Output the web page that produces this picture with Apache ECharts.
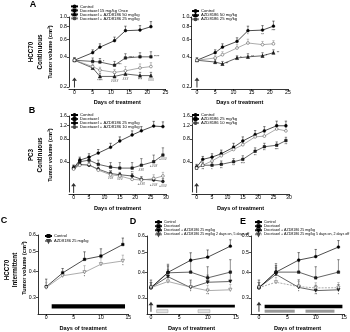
<!DOCTYPE html>
<html><head><meta charset="utf-8">
<script src="https://cdn.jsdelivr.net/npm/echarts@6/dist/echarts.min.js"></script>
<style>html,body{margin:0;padding:0;background:#fff}#c{width:350px;height:332px}</style>
</head><body><div id="c"></div>
<script>
// ---------------- data ----------------
// Panel A (HCC70 continuous)
const daysA = [0, 5, 7, 11, 14, 18, 21];
const aL_ctrl = [0.37, 0.44, 0.50, 0.58, 0.73, 0.74, 0.80];
const aL_ctrlErr = [0.02, 0.03, 0.04, 0.05, 0.08, 0.08, 0.10];
const aL_doc = [0.37, 0.36, 0.355, 0.33, 0.39, 0.40, 0.40];
const aL_docErr = [0.02, 0.03, 0.03, 0.03, 0.04, 0.04, 0.05];
const aL_combo50 = [0.37, 0.31, 0.255, 0.255, 0.27, 0.26, 0.26];
const aL_combo50Err = [0.02, 0.02, 0.02, 0.02, 0.02, 0.02, 0.02];
const aL_combo25 = [0.37, 0.32, 0.295, 0.28, 0.29, 0.31, 0.32];
const aL_combo25Err = [0.02, 0.02, 0.02, 0.02, 0.03, 0.03, 0.03];
const aR_ctrl = [0.37, 0.44, 0.50, 0.57, 0.73, 0.74, 0.81];
const aR_ctrlErr = [0.02, 0.03, 0.04, 0.05, 0.08, 0.08, 0.10];
const aR_azd50 = [0.37, 0.355, 0.34, 0.39, 0.40, 0.41, 0.44];
const aR_azd50Err = [0.02, 0.02, 0.02, 0.02, 0.03, 0.03, 0.03];
const aR_azd25 = [0.37, 0.39, 0.42, 0.49, 0.55, 0.53, 0.54];
const aR_azd25Err = [0.02, 0.02, 0.03, 0.04, 0.05, 0.04, 0.04];
// Panel B (PC3 continuous)
const daysB = [0, 2, 5, 8, 12, 15, 19, 22, 26, 29];
const bL_ctrl = [0.33, 0.42, 0.46, 0.52, 0.62, 0.75, 0.90, 1.02, 1.18, 1.16];
const bL_ctrlErr = [0.03, 0.04, 0.05, 0.06, 0.08, 0.10, 0.12, 0.14, 0.18, 0.18];
const bL_doc = [0.33, 0.40, 0.42, 0.37, 0.34, 0.33, 0.33, 0.36, 0.40, 0.49];
const bL_docErr = [0.03, 0.04, 0.05, 0.05, 0.05, 0.06, 0.06, 0.08, 0.09, 0.12];
const bL_combo25 = [0.33, 0.37, 0.36, 0.32, 0.28, 0.27, 0.26, 0.235, 0.23, 0.22];
const bL_combo25Err = [0.02, 0.03, 0.03, 0.02, 0.02, 0.02, 0.02, 0.02, 0.02, 0.02];
const bL_combo10 = [0.32, 0.36, 0.37, 0.31, 0.27, 0.26, 0.235, 0.23, 0.24, 0.26];
const bL_combo10Err = [0.02, 0.03, 0.03, 0.02, 0.02, 0.02, 0.02, 0.02, 0.03, 0.03];
const bR_ctrl = [0.34, 0.43, 0.46, 0.51, 0.62, 0.75, 0.91, 1.02, 1.19, 1.19];
const bR_ctrlErr = [0.03, 0.04, 0.05, 0.06, 0.08, 0.10, 0.12, 0.14, 0.18, 0.18];
const bR_azd25 = [0.33, 0.36, 0.36, 0.37, 0.40, 0.43, 0.55, 0.63, 0.66, 0.76];
const bR_azd25Err = [0.03, 0.03, 0.03, 0.04, 0.04, 0.05, 0.06, 0.07, 0.07, 0.08];
const bR_azd10 = [0.33, 0.36, 0.41, 0.48, 0.58, 0.67, 0.85, 0.87, 1.08, 1.02];
const bR_azd10Err = [0.03, 0.04, 0.05, 0.06, 0.07, 0.08, 0.09, 0.10, 0.12, 0.12];
// Panels C-E (HCC70 intermittent)
const daysC = [0, 3, 7, 10, 14];
const c_ctrl = [0.338, 0.394, 0.458, 0.475, 0.54];
const c_ctrlErr = [0.03, 0.02, 0.04, 0.04, 0.04];
const c_azd = [0.335, 0.382, 0.397, 0.434, 0.45];
const c_azdErr = [0.02, 0.02, 0.03, 0.03, 0.03];
const d_ctrl = [0.336, 0.399, 0.457, 0.473, 0.535];
const d_ctrlErr = [0.03, 0.03, 0.04, 0.04, 0.04];
const d_doc = [0.336, 0.397, 0.40, 0.375, 0.40];
const d_docErr = [0.02, 0.04, 0.05, 0.05, 0.06];
const d_combo = [0.336, 0.38, 0.336, 0.357, 0.36];
const d_comboErr = [0.02, 0.03, 0.03, 0.03, 0.04];
const d_comboInt = [0.336, 0.36, 0.338, 0.325, 0.328];
const d_comboIntErr = [0.02, 0.02, 0.02, 0.02, 0.02];
const e_ctrl = [0.336, 0.40, 0.458, 0.476, 0.53];
const e_ctrlErr = [0.03, 0.03, 0.04, 0.04, 0.04];
const e_doc = [0.336, 0.40, 0.40, 0.375, 0.40];
const e_docErr = [0.02, 0.04, 0.05, 0.05, 0.06];
const e_combo = [0.336, 0.39, 0.337, 0.325, 0.328];
const e_comboErr = [0.02, 0.03, 0.03, 0.02, 0.02];
const e_comboInt = [0.336, 0.357, 0.34, 0.335, 0.336];
const e_comboIntErr = [0.02, 0.02, 0.02, 0.02, 0.02];
// significance marks per point
const aL_docMarks = ['', '', '*', '***', '****', '', '****'];
const aL_combo50Marks = ['', '', '****', '####', '###', '***', '###'];
const aR_ctrlMarks = ['', '', '', '', '*', '**', '***'];
const aR_azd50Marks = ['', '', '**', '*', '**', '*', '**'];
const bL_docMarks = ['', '', '', '*', '**', '', '**', '###', '+###', '+###'];
const bL_combo25Marks = ['', '', '', '', '###', '###', '', '+###', '+###', '+###'];
const bR_azd25Marks = ['', '**', '*', '**', '**', '***', '**', '**', '***', '**'];
const c_azdMarks = ['', '', '*', '', '*'];
const d_comboIntMarks = ['', '', '*', '**', ''];
const e_comboMarks = ['', '', '*', '**', '*'];
// treatment schedules [startDay, endDay]
const c_schedBlack = [[1, 14.4]];
const d_schedBlack = [[1, 14.8]];
const d_schedGray = [[1, 3], [8.3, 10.4]];
const e_schedBlack = [[1, 14.7]];
const e_schedGray = [[1, 6.3], [8.2, 13.3]];
// tick labels
const xTicks25 = [0, 5, 10, 15, 20, 25];
const xTicks30 = [0, 5, 10, 15, 20, 25, 30];
const xTicks15 = [0, 5, 10, 15];
const yTicksA = [0.2, 0.4, 0.6, 0.8, 1.0];
const yTicksB = [0.4, 0.8, 1.2, 1.6];
const yTicksC = [0.3, 0.4, 0.5, 0.6];

// ---------------- layout ----------------
const FF = 'Liberation Sans';
const G = [
  {l: 69,    t: 17,  w: 96.5, h: 70,   xmin: -1.5, xmax: 25, ymin: 0.2,  ymax: 1.0, xt: xTicks25, yt: yTicksA, off: 2, ng: 10},
  {l: 191.5, t: 17,  w: 96.5, h: 70,   xmin: -1.5, xmax: 25, ymin: 0.2,  ymax: 1.0, xt: xTicks25, yt: yTicksA, off: 2, ng: 10},
  {l: 69,    t: 116, w: 97,   h: 76,   xmin: -1.5, xmax: 30, ymin: 0.16, ymax: 1.6, xt: xTicks30, yt: yTicksB, off: 2, ng: 11},
  {l: 192,   t: 116, w: 97,   h: 76,   xmin: -1.5, xmax: 30, ymin: 0.16, ymax: 1.6, xt: xTicks30, yt: yTicksB, off: 2, ng: 11},
  {l: 38,    t: 235, w: 90.3, h: 80.5, xmin: -1.5, xmax: 15, ymin: 0.25, ymax: 0.6, xt: xTicks15, yt: yTicksC, off: 0, ng: 11},
  {l: 147,   t: 236, w: 89,   h: 79.5, xmin: -0.7, xmax: 15, ymin: 0.25, ymax: 0.6, xt: xTicks15, yt: yTicksC, off: 0, ng: 11},
  {l: 251,   t: 236, w: 94,   h: 79.5, xmin: -1.4, xmax: 15, ymin: 0.25, ymax: 0.6, xt: xTicks15, yt: yTicksC, off: 0, ng: 11}
];
const axLine = {show: true, onZero: false, lineStyle: {color: '#000', width: 0.8}};
function xAx(i, g) {
  return {type: 'value', gridIndex: i, min: g.xmin, max: g.xmax, offset: g.off,
    axisLine: axLine,
    axisTick: {show: true, length: 2, customValues: g.xt, lineStyle: {color: '#000', width: 0.7}},
    axisLabel: {customValues: g.xt, fontSize: 5.2, margin: 1.5, color: '#000', fontFamily: FF},
    splitLine: {show: false},
    name: 'Days of treatment', nameLocation: 'middle', nameGap: g.ng,
    nameTextStyle: {fontSize: 5.6, fontWeight: 'bold', color: '#000', fontFamily: FF}};
}
function yAx(i, g) {
  return {type: 'log', logBase: 10, gridIndex: i, min: g.ymin, max: g.ymax,
    axisLine: axLine,
    axisTick: {show: true, length: 2, customValues: g.yt, lineStyle: {color: '#000', width: 0.7}},
    axisLabel: {customValues: g.yt, fontSize: 5.2, margin: 2, color: '#000', fontFamily: FF,
      formatter: v => (+v).toFixed(1)},
    minorTick: {show: false}, minorSplitLine: {show: false}, splitLine: {show: false}};
}

// ---------------- series ----------------
const ZW = '\u200b';
const series = [];
function errRender(color) {
  return function (params, api) {
    const x = api.value(0), y = api.value(1), e = api.value(2);
    const p0 = api.coord([x, y]), p1 = api.coord([x, y + e]);
    return {type: 'group', children: [
      {type: 'line', shape: {x1: p0[0], y1: p0[1], x2: p1[0], y2: p1[1]}, style: {stroke: color, lineWidth: 0.5}},
      {type: 'line', shape: {x1: p1[0] - 1.2, y1: p1[1], x2: p1[0] + 1.2, y2: p1[1]}, style: {stroke: color, lineWidth: 0.5}}
    ]};
  };
}
function addLine(gi, label, xs, ys, es, st, marks, markPos) {
  const name = label + ZW.repeat(gi);
  series.push({type: 'line', name, xAxisIndex: gi, yAxisIndex: gi,
    data: xs.map((x, i) => [x, ys[i]]),
    symbol: st.sym, symbolSize: st.size || 2.8, symbolRotate: st.rot || 0, showSymbol: true,
    lineStyle: {color: st.line, width: 0.7, type: st.dash ? [2, 1.2] : 'solid'},
    itemStyle: {color: st.fill, borderColor: st.stroke || '#000', borderWidth: 0.5},
    label: marks ? {show: true, position: markPos || 'bottom', distance: 1.5, fontSize: 3.4,
      color: '#000', fontFamily: FF, formatter: p => marks[p.dataIndex] || ''} : {show: false},
    labelLayout: {hideOverlap: false},
    z: 4, silent: true});
  series.push({type: 'custom', xAxisIndex: gi, yAxisIndex: gi,
    data: xs.map((x, i) => [x, ys[i], es[i]]), encode: {x: 0, y: 1},
    renderItem: errRender(st.line), z: 3, silent: true});
  return name;
}
function addArrow(gi, yv) {
  series.push({type: 'scatter', xAxisIndex: gi, yAxisIndex: gi, data: [[0, yv]], silent: true,
    symbol: 'path://M5,0L10,8L6,8L6,24L4,24L4,8L0,8Z', symbolSize: [5, 10],
    itemStyle: {color: '#000'}, z: 5});
}
function addSched(gi, spans, lvl, hgt, fill, stroke) {
  series.push({type: 'custom', xAxisIndex: gi, yAxisIndex: gi, silent: true, z: 2,
    data: spans.map(s => [s[0], s[1], lvl]), encode: {x: [0, 1], y: 2},
    renderItem: function (params, api) {
      const a = api.coord([api.value(0), api.value(2)]);
      const b = api.coord([api.value(1), api.value(2)]);
      return {type: 'rect', shape: {x: a[0], y: a[1] - hgt / 2, width: b[0] - a[0], height: hgt},
        style: {fill: fill, stroke: stroke || null, lineWidth: 0.5}};
    }});
}
const BLK = '#000', DK = '#222', GR = '#888';
const S_ctrl = {sym: 'circle', line: BLK, fill: BLK};
const S_sq = {sym: 'rect', line: DK, fill: DK, size: 2.5};
const S_tri = {sym: 'triangle', line: DK, fill: DK, size: 3.2};
const S_open = {sym: 'circle', line: GR, fill: '#fff', stroke: '#444'};
const S_dtri = {sym: 'triangle', rot: 180, line: DK, fill: DK, size: 3.2};
const S_dtriOpen = {sym: 'triangle', rot: 180, line: GR, fill: '#fff', stroke: '#444', size: 3.2};

const lg = [[], [], [], [], [], [], []];
// A left
lg[0].push(addLine(0, 'Control', daysA, aL_ctrl, aL_ctrlErr, S_ctrl));
lg[0].push(addLine(0, 'Docetaxel 15 mg/kg Once', daysA, aL_doc, aL_docErr, S_sq, aL_docMarks, 'right'));
lg[0].push(addLine(0, 'Docetaxel + AZD8186 50 mg/kg', daysA, aL_combo50, aL_combo50Err, S_tri, aL_combo50Marks, 'bottom'));
lg[0].push(addLine(0, 'Docetaxel + AZD8186 25 mg/kg', daysA, aL_combo25, aL_combo25Err, S_open));
addArrow(0, 0.222);
// A right
lg[1].push(addLine(1, 'Control', daysA, aR_ctrl, aR_ctrlErr, S_ctrl, aR_ctrlMarks, 'bottom'));
lg[1].push(addLine(1, 'AZD8186 50 mg/kg', daysA, aR_azd50, aR_azd50Err, S_tri, aR_azd50Marks, 'right'));
lg[1].push(addLine(1, 'AZD8186 25 mg/kg', daysA, aR_azd25, aR_azd25Err, S_open));
addArrow(1, 0.222);
// B left
lg[2].push(addLine(2, 'Control', daysB, bL_ctrl, bL_ctrlErr, S_ctrl));
lg[2].push(addLine(2, 'Docetaxel', daysB, bL_doc, bL_docErr, S_sq, bL_docMarks, 'bottom'));
lg[2].push(addLine(2, 'Docetaxel + AZD8186 25 mg/kg', daysB, bL_combo25, bL_combo25Err, {sym: 'circle', line: DK, fill: DK}, bL_combo25Marks, 'bottom'));
lg[2].push(addLine(2, 'Docetaxel + AZD8186 10 mg/kg', daysB, bL_combo10, bL_combo10Err, S_open));
addArrow(2, 0.181);
// B right
lg[3].push(addLine(3, 'Control', daysB, bR_ctrl, bR_ctrlErr, S_ctrl));
lg[3].push(addLine(3, 'AZD8186 25 mg/kg', daysB, bR_azd25, bR_azd25Err, S_sq, bR_azd25Marks, 'bottom'));
lg[3].push(addLine(3, 'AZD8186 10 mg/kg', daysB, bR_azd10, bR_azd10Err, S_open));
addArrow(3, 0.181);
// C
lg[4].push(addLine(4, 'Control', daysC, c_ctrl, c_ctrlErr, {sym: 'rect', line: BLK, fill: BLK, size: 2.5}));
lg[4].push(addLine(4, 'AZD8186 25 mg/kg', daysC, c_azd, c_azdErr, S_dtriOpen, c_azdMarks, 'bottom'));
addSched(4, c_schedBlack, 0.272, 4.2, '#000');
// D
lg[5].push(addLine(5, 'Control', daysC, d_ctrl, d_ctrlErr, S_ctrl));
lg[5].push(addLine(5, 'Docetaxel', daysC, d_doc, d_docErr, S_sq));
lg[5].push(addLine(5, 'Docetaxel + AZD8186 25 mg/kg', daysC, d_combo, d_comboErr, S_dtri));
lg[5].push(addLine(5, 'Docetaxel + AZD8186 25 mg/kg 2 days on, 5 days off', daysC, d_comboInt, d_comboIntErr, S_dtriOpen, d_comboIntMarks, 'bottom'));
addSched(5, d_schedBlack, 0.273, 2.6, '#000');
addSched(5, d_schedGray, 0.258, 3, '#e4e4e4', '#999');
addArrow(5, 0.271);
// E
lg[6].push(addLine(6, 'Control', daysC, e_ctrl, e_ctrlErr, S_ctrl));
lg[6].push(addLine(6, 'Docetaxel', daysC, e_doc, e_docErr, S_sq));
lg[6].push(addLine(6, 'Docetaxel + AZD8186 25 mg/kg', daysC, e_combo, e_comboErr, S_dtri, e_comboMarks, 'bottom'));
lg[6].push(addLine(6, 'Docetaxel + AZD8186 25 mg/kg 5 days on, 2 days off', daysC, e_comboInt, e_comboIntErr, Object.assign({}, S_dtriOpen, {dash: true})));
addSched(6, e_schedBlack, 0.272, 3.6, '#000');
addSched(6, e_schedGray, 0.258, 3, '#999');
addArrow(6, 0.271);

// ---------------- legends ----------------
const LG = [
  {left: 70,  top: 4.4,  sp: 3.2, fs: 4.2},
  {left: 191, top: 9,    sp: 4.1, fs: 4.2},
  {left: 70,  top: 113,  sp: 4,   fs: 4.2},
  {left: 191, top: 113,  sp: 4,   fs: 4.2},
  {left: 44,  top: 233.5,sp: 5,   fs: 4},
  {left: 154, top: 220,  sp: 4.1, fs: 3.6},
  {left: 254, top: 220,  sp: 4.1, fs: 3.6}
];
const legends = LG.map((p, i) => ({
  data: lg[i], left: p.left, top: p.top, orient: 'vertical', padding: 0, itemGap: 0,
  itemWidth: 7, itemHeight: 2.4, selectedMode: false,
  textStyle: {fontSize: p.fs, lineHeight: p.sp, color: '#000', fontFamily: FF, padding: [0, 0, 0, -3]}
}));

// ---------------- text labels ----------------
function vtext(x, y, text, size) {
  return {type: 'text', x: x, y: y, rotation: Math.PI / 2, silent: true,
    style: {text: text, fill: '#000', fontSize: size, fontWeight: 'bold', fontFamily: FF, align: 'center', verticalAlign: 'middle'}};
}
function letter(x, y, text) {
  return {type: 'text', x: x, y: y, silent: true,
    style: {text: text, fill: '#000', fontSize: 9, fontWeight: 'bold', fontFamily: FF, align: 'center', verticalAlign: 'middle'}};
}
const graphics = [
  letter(33, 5, 'A'), letter(32, 111, 'B'), letter(4, 221, 'C'), letter(133, 222, 'D'), letter(243, 222, 'E'),
  vtext(31, 52, 'HCC70', 6.3), vtext(40, 52, 'Continuous', 6.3), vtext(50.5, 52, 'Tumor volume (cm³)', 5.6),
  vtext(31, 155, 'PC3', 6.3), vtext(40, 155, 'Continuous', 6.3), vtext(50.5, 155, 'Tumor volume (cm³)', 5.6),
  vtext(7.5, 270, 'HCC70', 6.3), vtext(15.5, 270, 'Intermittent', 6.3), vtext(24.5, 268, 'Tumor volume (cm³)', 5.6)
];

const chart = echarts.init(document.getElementById('c'), null, {renderer: 'canvas'});
chart.setOption({
  animation: false,
  backgroundColor: '#fff',
  textStyle: {fontFamily: FF},
  grid: G.map(g => ({left: g.l, top: g.t, width: g.w, height: g.h})),
  xAxis: G.map((g, i) => xAx(i, g)),
  yAxis: G.map((g, i) => yAx(i, g)),
  legend: legends,
  graphic: graphics,
  series: series
});
</script>
</body></html>
